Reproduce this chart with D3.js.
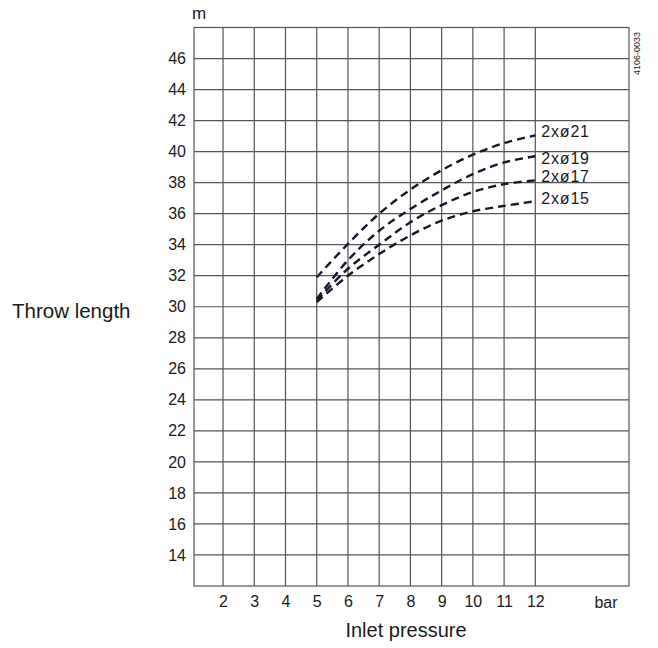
<!DOCTYPE html>
<html>
<head>
<meta charset="utf-8">
<script src="https://cdn.jsdelivr.net/npm/d3@7"></script>
<style>
  body { margin: 0; background: #fff; }
  svg text { font-family: "Liberation Sans", Arial, sans-serif; fill: #1a1a1a; }
</style>
</head>
<body>
<svg id="chart"></svg>
<script>
// inlet pressure (bar) at which the curves are read
const pressure = [5, 6, 7, 8, 9, 10, 11, 12];

// throw length (m) per nozzle
const d21 = [31.9, 34.05, 36.0, 37.55, 38.8, 39.8, 40.55, 41.05];
const d19 = [30.5, 33.0, 34.9, 36.3, 37.5, 38.55, 39.3, 39.7];
const d17 = [30.4, 32.45, 34.0, 35.45, 36.55, 37.4, 37.9, 38.15];
const d15 = [30.3, 32.0, 33.4, 34.6, 35.55, 36.15, 36.5, 36.8];

const seriesNames = ["2xø21", "2xø19", "2xø17", "2xø15"];
const seriesValues = [d21, d19, d17, d15];

const xTicks = [2, 3, 4, 5, 6, 7, 8, 9, 10, 11, 12];
const yTicks = [14, 16, 18, 20, 22, 24, 26, 28, 30, 32, 34, 36, 38, 40, 42, 44, 46];

const width = 658;
const height = 648;
const plot = { left: 194, right: 629, top: 27.5, bottom: 586 };

const svg = d3.select("#chart").attr("width", width).attr("height", height);

const x = d3.scaleLinear().domain([1.07, 15]).range([plot.left, plot.right]);
const y = d3.scaleLinear().domain([12, 48]).range([plot.bottom, plot.top]);

// grid
const grid = svg.append("g").attr("stroke", "#555").attr("stroke-width", 1.2);
grid.selectAll(".vx")
    .data(xTicks)
    .enter()
    .append("line")
    .attr("x1", d => x(d)).attr("x2", d => x(d))
    .attr("y1", plot.top).attr("y2", plot.bottom);
grid.selectAll(".hy")
    .data(yTicks)
    .enter()
    .append("line")
    .attr("x1", plot.left).attr("x2", plot.right)
    .attr("y1", d => y(d)).attr("y2", d => y(d));
grid.append("rect")
    .attr("x", plot.left).attr("y", plot.top)
    .attr("width", plot.right - plot.left)
    .attr("height", plot.bottom - plot.top)
    .attr("fill", "none");

// y axis labels
const yAxis = svg.append("g")
    .attr("transform", `translate(${plot.left},0)`)
    .call(d3.axisLeft(y).tickValues(yTicks).tickSize(0).tickPadding(8));
yAxis.select(".domain").remove();
yAxis.selectAll("text").style("font-size", "16px").attr("fill", "#1a1a1a");

// x axis labels
const xAxis = svg.append("g")
    .attr("transform", `translate(0,${plot.bottom})`)
    .call(d3.axisBottom(x).tickValues(xTicks).tickSize(0).tickPadding(10));
xAxis.select(".domain").remove();
xAxis.selectAll("text").style("font-size", "16px").attr("fill", "#1a1a1a");

// curves
const line = d3.line()
    .x((d, i) => x(pressure[i]))
    .y(d => y(d))
    .curve(d3.curveCatmullRom.alpha(0.5));

svg.append("g")
    .selectAll("path")
    .data(seriesValues)
    .enter()
    .append("path")
    .attr("d", d => line(d))
    .attr("fill", "none")
    .attr("stroke", "#15172a")
    .attr("stroke-width", 2.4)
    .attr("stroke-dasharray", "8,5");

// series labels
svg.append("g")
    .selectAll("text")
    .data(seriesValues)
    .enter()
    .append("text")
    .attr("x", x(12) + 6)
    .attr("y", (d, i) => [131, 158.5, 176.5, 198.5][i])
    .attr("dy", "0.35em")
    .style("font-size", "16px")
    .style("letter-spacing", "0.8px")
    .text((d, i) => seriesNames[i]);

// axis titles
svg.append("text")
    .attr("x", 192).attr("y", 18.5)
    .style("font-size", "17px")
    .text("m");

svg.append("text")
    .attr("x", 606).attr("y", 607.5)
    .attr("text-anchor", "middle")
    .style("font-size", "16px")
    .text("bar");

svg.append("text")
    .attr("x", 406).attr("y", 637)
    .attr("text-anchor", "middle")
    .style("font-size", "20px")
    .text("Inlet pressure");

svg.append("text")
    .attr("x", 12).attr("y", 317.5)
    .style("font-size", "20.5px")
    .text("Throw length");

svg.append("text")
    .attr("transform", "translate(639.5,75) rotate(-90)")
    .style("font-size", "9px")
    .text("4106-0033");
</script>
</body>
</html>
